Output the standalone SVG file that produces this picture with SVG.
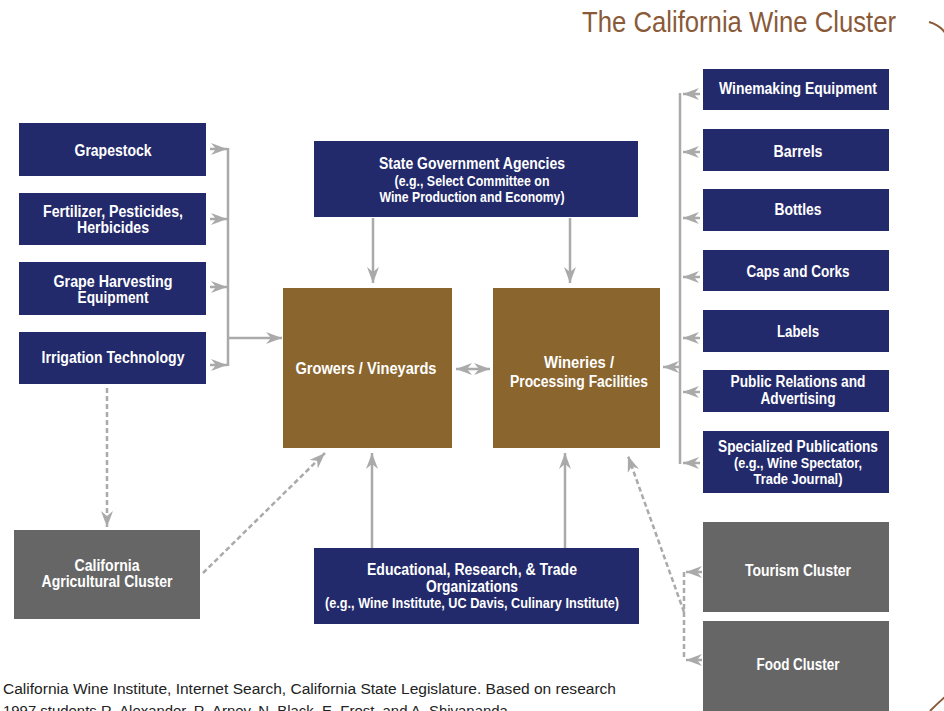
<svg xmlns="http://www.w3.org/2000/svg" width="944" height="711" viewBox="0 0 944 711">
<style>
.navy{fill:#232a6b}
.brown{fill:#8a652d}
.grey{fill:#666666}
.t{font-family:"Liberation Sans",Arial,sans-serif;font-weight:bold;fill:#ffffff;font-size:16px;text-anchor:middle}
.s{font-size:14.5px}
.con{stroke:#aaaaaa;stroke-width:2.5;fill:none}
.dash{stroke-dasharray:5,3}
</style>
<defs>
<marker id="ah" viewBox="0 0 16 12" refX="16" refY="6" markerWidth="16" markerHeight="12" markerUnits="userSpaceOnUse" orient="auto-start-reverse">
<path d="M0,0 L16,6 L0,12 L5,6 z" fill="#aaaaaa"/>
</marker>
</defs>
<rect width="944" height="711" fill="#ffffff"/>
<text x="582" y="32" font-family="Liberation Sans,Arial,sans-serif" font-size="30" fill="#8a5a38" textLength="314" lengthAdjust="spacingAndGlyphs">The California Wine Cluster</text>
<path d="M929,22 Q940,25 946,34" stroke="#8a5a38" stroke-width="2" fill="none"/>
<path d="M930,711 Q938,703 946,696" stroke="#8a5a38" stroke-width="2" fill="none"/>

<g id="connectors">
<path class="con" d="M210,149 L227,149" marker-end="url(#ah)"/>
<path class="con" d="M210,219 L227,219" marker-end="url(#ah)"/>
<path class="con" d="M210,287 L227,287" marker-end="url(#ah)"/>
<path class="con" d="M210,365 L227,365" marker-end="url(#ah)"/>
<path class="con" d="M228,148 L228,366"/>
<path class="con" d="M228,338 L282,338" marker-end="url(#ah)"/>
<path class="con" d="M373,218 L373,283" marker-end="url(#ah)"/>
<path class="con" d="M570,218 L570,283" marker-end="url(#ah)"/>
<path class="con" d="M372,548 L372,453" marker-end="url(#ah)"/>
<path class="con" d="M565,548 L565,453" marker-end="url(#ah)"/>
<path class="con" d="M456,369 L490,369" marker-start="url(#ah)" marker-end="url(#ah)"/>
<path class="con" d="M680,93 L680,464"/>
<path class="con" d="M700,94 L683,94" marker-end="url(#ah)"/>
<path class="con" d="M700,152 L683,152" marker-end="url(#ah)"/>
<path class="con" d="M700,218 L683,218" marker-end="url(#ah)"/>
<path class="con" d="M700,277 L683,277" marker-end="url(#ah)"/>
<path class="con" d="M700,338 L683,338" marker-end="url(#ah)"/>
<path class="con" d="M700,392 L683,392" marker-end="url(#ah)"/>
<path class="con" d="M700,463 L683,463" marker-end="url(#ah)"/>
<path class="con" d="M680,367 L663,367" marker-end="url(#ah)"/>
<path class="con dash" d="M107,388 L107,527" marker-end="url(#ah)"/>
<path class="con dash" d="M203,573 L325,453" marker-end="url(#ah)"/>
<path class="con dash" d="M684,572 L684,660"/>
<path class="con" d="M702,572 L686,572" marker-end="url(#ah)"/>
<path class="con" d="M702,660 L686,660" marker-end="url(#ah)"/>
<path class="con dash" d="M684,612 L628,456" marker-end="url(#ah)"/>
</g>

<g id="grapestock"><rect class="navy" x="19" y="123" width="187" height="53"/><text class="t" x="113" y="156" textLength="77" lengthAdjust="spacingAndGlyphs">Grapestock</text></g>
<g id="fertilizer"><rect class="navy" x="19" y="193" width="187" height="52"/><text class="t" x="113" y="217" textLength="140" lengthAdjust="spacingAndGlyphs">Fertilizer, Pesticides,</text><text class="t" x="113" y="233" textLength="72" lengthAdjust="spacingAndGlyphs">Herbicides</text></g>
<g id="harvesting"><rect class="navy" x="19" y="262" width="187" height="53"/><text class="t" x="113" y="287" textLength="119" lengthAdjust="spacingAndGlyphs">Grape Harvesting</text><text class="t" x="113" y="303" textLength="71" lengthAdjust="spacingAndGlyphs">Equipment</text></g>
<g id="irrigation"><rect class="navy" x="19" y="332" width="187" height="52"/><text class="t" x="113" y="363" textLength="143" lengthAdjust="spacingAndGlyphs">Irrigation Technology</text></g>

<g id="state"><rect class="navy" x="314" y="141" width="324" height="76"/><text class="t" x="472" y="169" textLength="186" lengthAdjust="spacingAndGlyphs">State Government Agencies</text><text class="t s" x="472" y="186" textLength="155" lengthAdjust="spacingAndGlyphs">(e.g., Select Committee on</text><text class="t s" x="472" y="202" textLength="185" lengthAdjust="spacingAndGlyphs">Wine Production and Economy)</text></g>

<g id="growers"><rect class="brown" x="283" y="288" width="169" height="160"/><text class="t" x="366" y="374" textLength="141" lengthAdjust="spacingAndGlyphs">Growers / Vineyards</text></g>
<g id="wineries"><rect class="brown" x="493" y="288" width="167" height="160"/><text class="t" x="579" y="368" textLength="70" lengthAdjust="spacingAndGlyphs">Wineries /</text><text class="t" x="579" y="387" textLength="138" lengthAdjust="spacingAndGlyphs">Processing Facilities</text></g>

<g id="winemaking"><rect class="navy" x="703" y="69" width="186" height="41"/><text class="t" x="798" y="94" textLength="158" lengthAdjust="spacingAndGlyphs">Winemaking Equipment</text></g>
<g id="barrels"><rect class="navy" x="703" y="129" width="186" height="42"/><text class="t" x="798" y="157" textLength="49" lengthAdjust="spacingAndGlyphs">Barrels</text></g>
<g id="bottles"><rect class="navy" x="703" y="189" width="186" height="42"/><text class="t" x="798" y="215" textLength="47" lengthAdjust="spacingAndGlyphs">Bottles</text></g>
<g id="caps"><rect class="navy" x="703" y="250" width="186" height="41"/><text class="t" x="798" y="277" textLength="103" lengthAdjust="spacingAndGlyphs">Caps and Corks</text></g>
<g id="labels"><rect class="navy" x="703" y="310" width="186" height="42"/><text class="t" x="798" y="337" textLength="42" lengthAdjust="spacingAndGlyphs">Labels</text></g>
<g id="pr"><rect class="navy" x="703" y="370" width="186" height="42"/><text class="t" x="798" y="387" textLength="135" lengthAdjust="spacingAndGlyphs">Public Relations and</text><text class="t" x="798" y="404" textLength="75" lengthAdjust="spacingAndGlyphs">Advertising</text></g>
<g id="publications"><rect class="navy" x="703" y="431" width="186" height="62"/><text class="t" x="798" y="452" textLength="160" lengthAdjust="spacingAndGlyphs">Specialized Publications</text><text class="t s" x="798" y="468" textLength="128" lengthAdjust="spacingAndGlyphs">(e.g., Wine Spectator,</text><text class="t s" x="798" y="484" textLength="89" lengthAdjust="spacingAndGlyphs">Trade Journal)</text></g>

<g id="agricultural"><rect class="grey" x="14" y="530" width="186" height="89"/><text class="t" x="107" y="571" textLength="65" lengthAdjust="spacingAndGlyphs">California</text><text class="t" x="107" y="587" textLength="131" lengthAdjust="spacingAndGlyphs">Agricultural Cluster</text></g>
<g id="educational"><rect class="navy" x="314" y="548" width="325" height="76"/><text class="t" x="472" y="575" textLength="210" lengthAdjust="spacingAndGlyphs">Educational, Research, &amp; Trade</text><text class="t" x="472" y="592" textLength="92" lengthAdjust="spacingAndGlyphs">Organizations</text><text class="t s" x="472" y="608" textLength="294" lengthAdjust="spacingAndGlyphs">(e.g., Wine Institute, UC Davis, Culinary Institute)</text></g>
<g id="tourism"><rect class="grey" x="703" y="522" width="186" height="90"/><text class="t" x="798" y="576" textLength="106" lengthAdjust="spacingAndGlyphs">Tourism Cluster</text></g>
<g id="food"><rect class="grey" x="703" y="621" width="186" height="95"/><text class="t" x="798" y="670" textLength="83" lengthAdjust="spacingAndGlyphs">Food Cluster</text></g>

<text x="3" y="694" font-family="Liberation Sans,Arial,sans-serif" font-size="15.5" fill="#222222" textLength="613" lengthAdjust="spacingAndGlyphs">California Wine Institute, Internet Search, California State Legislature. Based on research</text>
<text x="3" y="716" font-family="Liberation Sans,Arial,sans-serif" font-size="15.5" fill="#222222" textLength="509" lengthAdjust="spacingAndGlyphs">1997 students R. Alexander, R. Arney, N. Black, E. Frost, and A. Shivananda.</text>
</svg>
